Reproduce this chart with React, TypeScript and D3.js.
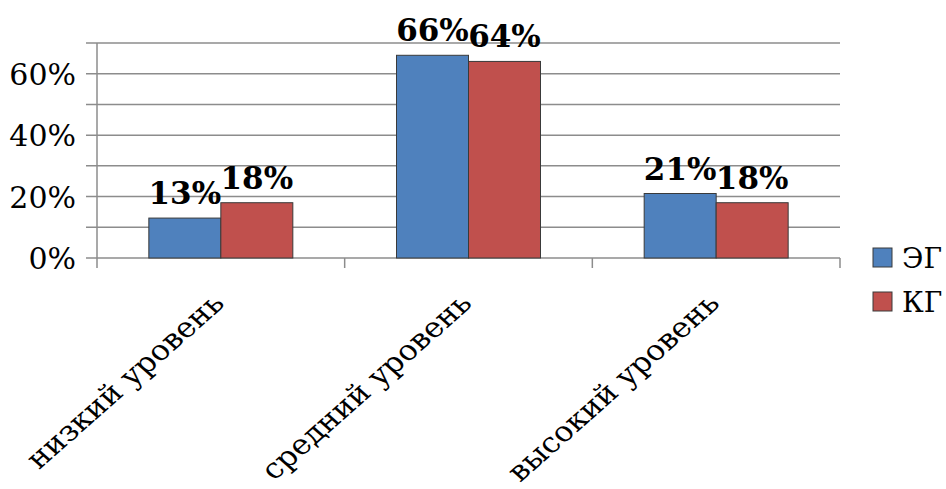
import { useRef, useEffect } from 'react'
import * as d3 from 'd3'

const CATEGORIES = ['низкий уровень', 'средний уровень', 'высокий уровень']
const SERIES = ['ЭГ', 'КГ']
const EG_VALUES = [13, 66, 21]
const KG_VALUES = [18, 64, 18]
const Y_TICKS = [0, 20, 40, 60]
const GRID_TICKS = [0, 10, 20, 30, 40, 50, 60, 70]
const COLORS = ['#4f81bd', '#c0504d']

const WIDTH = 946
const HEIGHT = 489
const FONT = "'DejaVu Serif'"

export default function App() {
  const svgRef = useRef<SVGSVGElement>(null)

  useEffect(() => {
    document.body.style.margin = '0'
    if (!svgRef.current) return
    const svg = d3.select(svgRef.current)
    svg.selectAll('*').remove()

    const left = 97
    const right = 840
    const top = 43
    const bottom = 258

    const x = d3.scaleBand<string>().domain(CATEGORIES).range([left, right])
    const x1 = d3.scaleBand<string>().domain(SERIES).range([0, x.bandwidth()]).paddingInner(0).paddingOuter(0.72)
    const y = d3.scaleLinear().domain([0, 70]).range([bottom, top])

    // gridlines
    svg
      .append('g')
      .selectAll('line')
      .data(GRID_TICKS)
      .enter()
      .append('line')
      .attr('x1', left - 11)
      .attr('x2', right)
      .attr('y1', (d) => y(d))
      .attr('y2', (d) => y(d))
      .attr('stroke', '#8c8c8c')
      .attr('stroke-width', 1.5)

    // y axis line
    svg
      .append('line')
      .attr('x1', left)
      .attr('x2', left)
      .attr('y1', top)
      .attr('y2', bottom + 10)
      .attr('stroke', '#8c8c8c')
      .attr('stroke-width', 1.5)

    // category ticks
    const catEdges = [...CATEGORIES.map((c) => x(c)!), right]
    svg
      .append('g')
      .selectAll('line')
      .data(catEdges.slice(1))
      .enter()
      .append('line')
      .attr('x1', (d) => d)
      .attr('x2', (d) => d)
      .attr('y1', bottom)
      .attr('y2', bottom + 10)
      .attr('stroke', '#8c8c8c')
      .attr('stroke-width', 1.5)

    // y tick labels
    svg
      .append('g')
      .selectAll('text')
      .data(Y_TICKS)
      .enter()
      .append('text')
      .attr('x', left - 21)
      .attr('y', (d) => y(d) + 11)
      .attr('text-anchor', 'end')
      .style('font-family', FONT)
      .style('font-size', '30px')
      .attr('fill', '#000')
      .text((d) => `${d}%`)

    const seriesValues = [EG_VALUES, KG_VALUES]

    SERIES.forEach((s, si) => {
      const vals = seriesValues[si]
      svg
        .append('g')
        .selectAll('rect')
        .data(vals)
        .enter()
        .append('rect')
        .attr('x', (_, i) => x(CATEGORIES[i])! + x1(s)!)
        .attr('y', (d) => y(d))
        .attr('width', x1.bandwidth())
        .attr('height', (d) => bottom - y(d))
        .attr('fill', COLORS[si])
        .attr('stroke', '#3a3a3a')
        .attr('stroke-width', 1)

      svg
        .append('g')
        .selectAll('text')
        .data(vals)
        .enter()
        .append('text')
        .attr('x', (_, i) => x(CATEGORIES[i])! + x1(s)! + x1.bandwidth() / 2)
        .attr('y', (d) => y(d) - 14)
        .attr('text-anchor', 'middle')
        .style('font-family', FONT)
        .style('font-weight', 'bold')
        .style('font-size', '31px')
        .attr('fill', '#000')
        .text((d) => `${d}%`)
    })

    // category labels (source image is slightly stretched horizontally)
    svg
      .append('g')
      .selectAll('text')
      .data(CATEGORIES)
      .enter()
      .append('text')
      .attr('transform', (d) => `translate(${x(d)! + x.bandwidth() / 2 + 5},${bottom + 47}) scale(1.13,1) rotate(-45)`)
      .attr('text-anchor', 'end')
      .style('font-family', FONT)
      .style('font-size', '28px')
      .attr('fill', '#000')
      .text((d) => d)

    // legend
    const legend = svg
      .append('g')
      .selectAll('g')
      .data(SERIES)
      .enter()
      .append('g')
      .attr('transform', (_, i) => `translate(873,${248 + i * 44})`)
    legend
      .append('rect')
      .attr('width', 19)
      .attr('height', 19)
      .attr('fill', (_, i) => COLORS[i])
      .attr('stroke', '#3a3a3a')
      .attr('stroke-width', 1)
    legend
      .append('text')
      .attr('x', 29)
      .attr('y', 20)
      .style('font-family', FONT)
      .style('font-size', '28px')
      .attr('fill', '#000')
      .text((d) => d)
  }, [])

  return <svg ref={svgRef} width={WIDTH} height={HEIGHT} style={{ display: 'block', background: '#fff' }} />
}
